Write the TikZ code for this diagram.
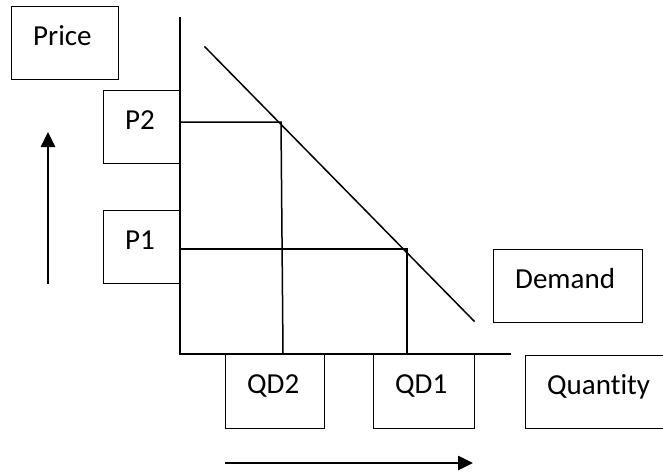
\documentclass[tikz,border=0pt]{standalone}
\usepackage{fontspec}
\setmainfont[Ligatures=NoCommon]{Carlito}
\usetikzlibrary{arrows.meta}
\tikzset{
  box/.style={draw=black, line width=1.3pt, rectangle, anchor=north west, inner sep=0pt, label distance=0pt},
  txt/.style={anchor=base west, inner sep=0pt, font=\fontsize{29}{34}\selectfont, xshift=22pt, yshift=-39pt},
  ln/.style={line width=1.5pt, line cap=rect},
  bigarrow/.style={line width=2.6pt, -{Triangle[length=15pt,width=14pt]}}
}
\begin{document}
\begin{tikzpicture}[x=1pt,y=-1pt]
\useasboundingbox (0,0) rectangle (663,471);
% boxes
\node[box, minimum width=107pt, minimum height=73pt, label={[txt]north west:Price}] (price) at (11,6) {};
\node[box, minimum width=77pt, minimum height=73pt, label={[txt]north west:P2}] (p2) at (103,90) {};
\node[box, minimum width=77pt, minimum height=73pt, label={[txt]north west:P1}] (p1) at (103,210) {};
\node[box, minimum width=149pt, minimum height=73pt, label={[txt]north west:Demand}] (demand) at (493,249) {};
\node[box, minimum width=99pt, minimum height=74pt, label={[txt]north west:QD2}] (qd2) at (225,354) {};
\node[box, minimum width=101pt, minimum height=74pt, label={[txt]north west:QD1}] (qd1) at (373,354) {};
\node[box, minimum width=160pt, minimum height=73pt, label={[txt]north west:Quantity}] (quantity) at (525,355) {};
% coordinates
\coordinate (ytop) at (180,18);
\coordinate (origin) at (180,354);
\coordinate (xend) at (510,354);
\coordinate (dtop) at (205,47);
\coordinate (dbot) at (474,321);
\coordinate (ap2) at (180,122);
\coordinate (e2) at (281,122);
\coordinate (q2) at (283,354);
\coordinate (ap1) at (180,249);
\coordinate (e1) at (407,249);
\coordinate (q1) at (407,354);
\coordinate (upA) at (48,284);
\coordinate (upB) at (48,132);
\coordinate (rtA) at (225,463);
\coordinate (rtB) at (473,463);
% axes
\draw[ln] (ytop) -- (origin) -- (xend);
% demand curve
\draw[ln] (dtop) -- (dbot);
% guide lines
\draw[ln] (ap2) -- (e2) -- (q2);
\draw[ln] (ap1) -- (e1) -- (q1);
% arrows
\draw[bigarrow] (upA) -- (upB);
\draw[bigarrow] (rtA) -- (rtB);
\end{tikzpicture}
\end{document}
